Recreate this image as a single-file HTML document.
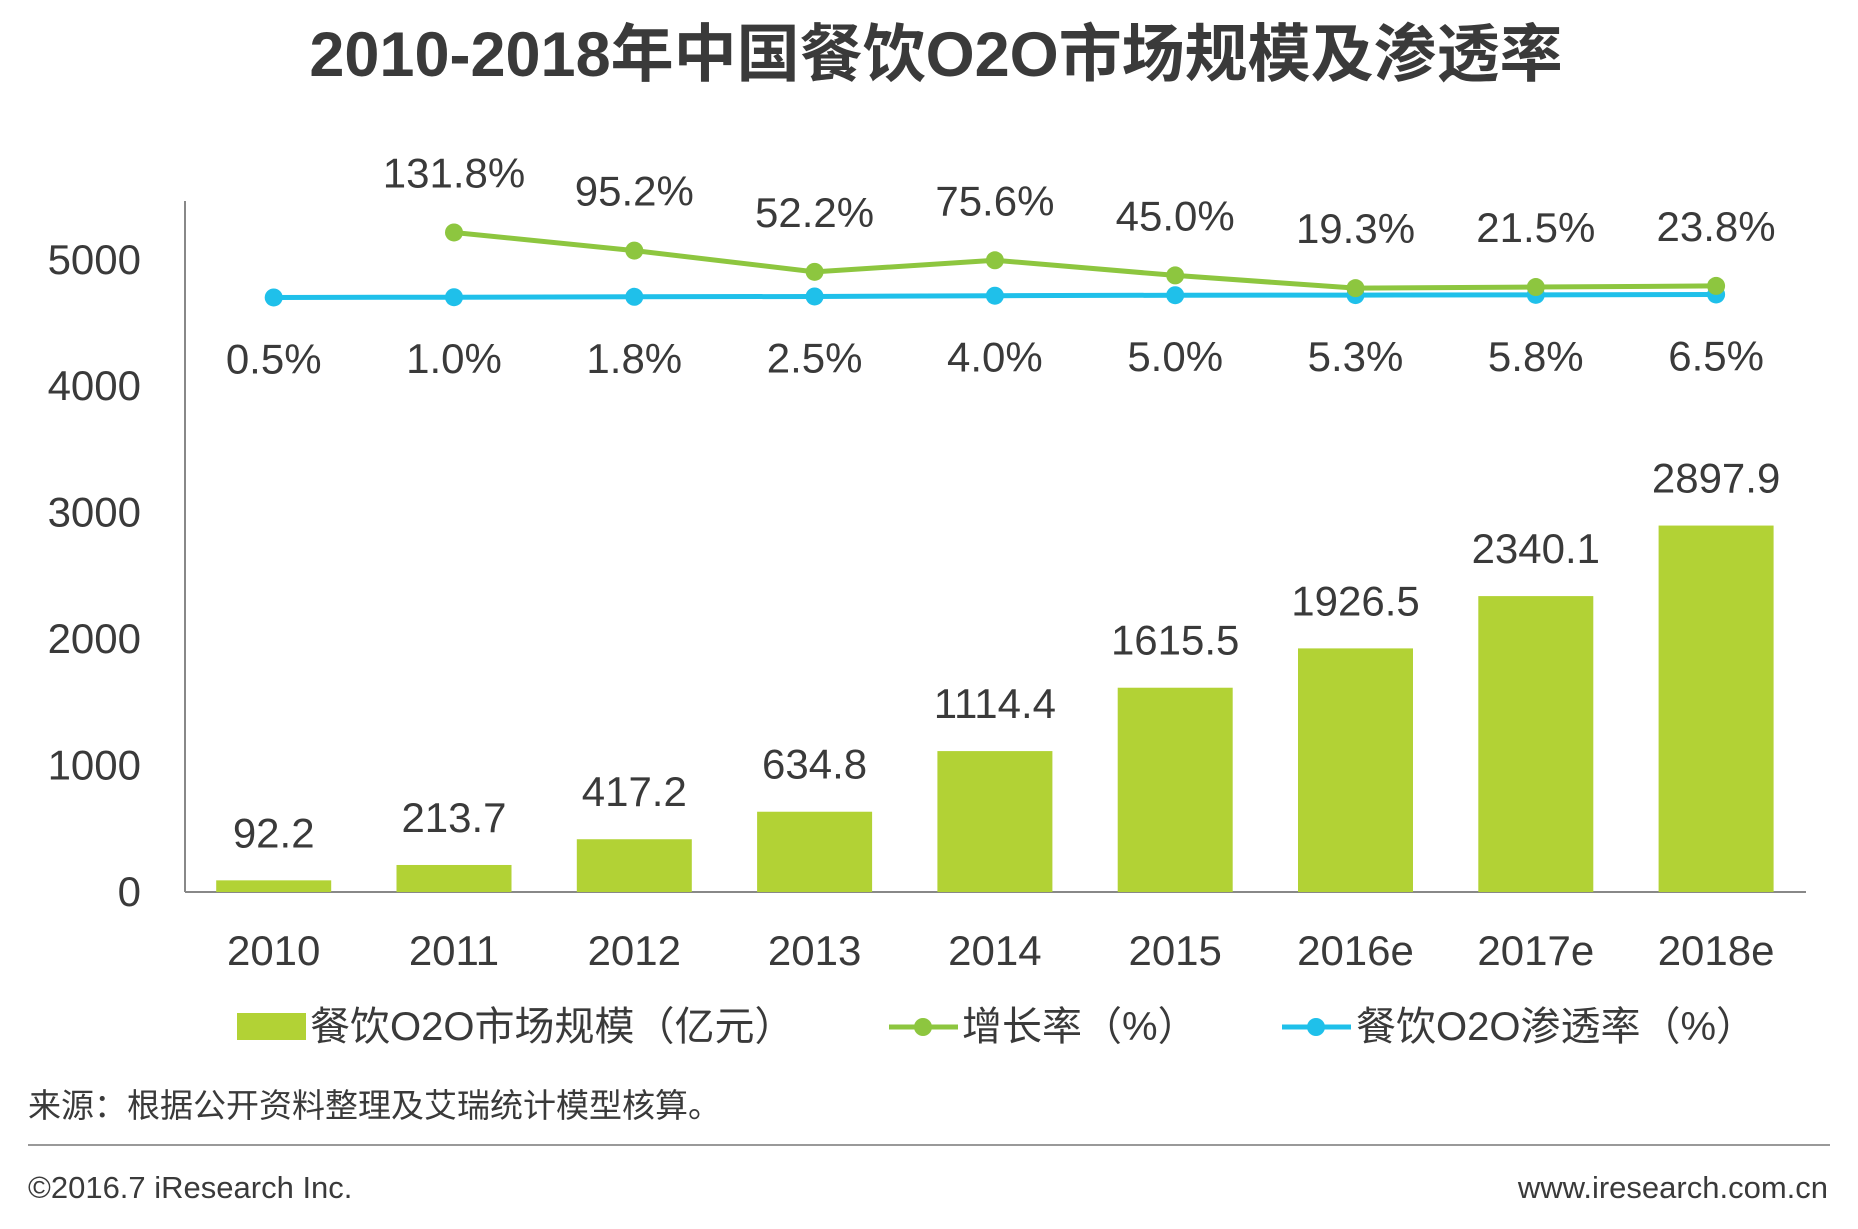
<!DOCTYPE html>
<html><head><meta charset="utf-8"><style>
body{margin:0;background:#fff;}
svg text{font-family:"Liberation Sans","Noto Sans CJK SC",sans-serif;fill:#3a3a3a;}
</style></head><body>
<svg width="1858" height="1224" xmlns="http://www.w3.org/2000/svg">
<text x="936" y="76" text-anchor="middle" font-size="63" font-weight="bold" fill="#333">2010-2018年中国餐饮O2O市场规模及渗透率</text>
<g id="axes"></g><g id="bars"></g><g id="lines"></g>
<g>
<rect x="237" y="1013" width="69" height="27" fill="#b2d235"/>
<text x="310" y="1040" font-size="40">餐饮O2O市场规模（亿元）</text>
<line x1="889" y1="1027" x2="958" y2="1027" stroke="#8dc63f" stroke-width="5"/><circle cx="923" cy="1027" r="9" fill="#8dc63f"/>
<text x="962" y="1040" font-size="40">增长率（%）</text>
<line x1="1282" y1="1027" x2="1351" y2="1027" stroke="#1fc0ea" stroke-width="5"/><circle cx="1316" cy="1027" r="9" fill="#1fc0ea"/>
<text x="1356" y="1040" font-size="40">餐饮O2O渗透率（%）</text>
</g>
<text x="28" y="1117" font-size="33" fill="#666">来源：根据公开资料整理及艾瑞统计模型核算。</text>
<line x1="28" y1="1145" x2="1830" y2="1145" stroke="#999" stroke-width="2"/>
<text x="28" y="1198" font-size="31" fill="#777">©2016.7 iResearch Inc.</text>
<text x="1828" y="1198" font-size="31" fill="#777" text-anchor="end">www.iresearch.com.cn</text>
</svg>
<script>
const categories=["2010","2011","2012","2013","2014","2015","2016e","2017e","2018e"];
const marketSize=[92.2,213.7,417.2,634.8,1114.4,1615.5,1926.5,2340.1,2897.9];
const growthRate=[null,131.8,95.2,52.2,75.6,45.0,19.3,21.5,23.8];
const penetration=[0.5,1.0,1.8,2.5,4.0,5.0,5.3,5.8,6.5];
const yTicks=[0,1000,2000,3000,4000,5000];
const NS="http://www.w3.org/2000/svg";
const x0=273.7,step=180.3,barW=115;
const xPos=i=>x0+i*step;
const yL=v=>892-v*0.12645;
const yR=v=>297.7-v*0.495;
function mk(tag,attrs,parent,txt){const e=document.createElementNS(NS,tag);for(const k in attrs)e.setAttribute(k,attrs[k]);if(txt!==undefined)e.textContent=txt;document.getElementById(parent).appendChild(e);return e;}
let e;
e=mk("line",{x1:185,y1:201,x2:185,y2:892,stroke:"#888","stroke-width":2},"axes");


e=mk("line",{x1:185,y1:892,x2:1806,y2:892,stroke:"#888","stroke-width":2},"axes");


yTicks.forEach(t=>{
 e=mk("text",{x:141,y:yL(t)+14,"text-anchor":"end","font-size":42},"axes",String(t));
 
 
});
categories.forEach((c,i)=>{
 e=mk("text",{x:xPos(i),y:965,"text-anchor":"middle","font-size":42},"axes",c);
 
 
 const v=marketSize[i];
 e=mk("rect",{x:xPos(i)-barW/2,y:yL(v),width:barW,height:892-yL(v),fill:"#b2d235"},"bars");
 
 
 e=mk("text",{x:xPos(i),y:yL(v)-33,"text-anchor":"middle","font-size":42},"bars",v.toFixed(1));
 
 
});
function series(vals,color,name,above){
 const pts=[];vals.forEach((v,i)=>{if(v!==null)pts.push([xPos(i),yR(v),v]);});
 e=mk("polyline",{points:pts.map(p=>p[0]+","+p[1]).join(" "),fill:"none",stroke:color,"stroke-width":5},"lines");
 
 
 pts.forEach(p=>{
  e=mk("circle",{cx:p[0],cy:p[1],r:9,fill:color},"lines");
  
  
  e=mk("text",{x:p[0],y:above?p[1]-45:p[1]+76,"text-anchor":"middle","font-size":42},"lines",p[2].toFixed(1)+"%");
  
  
 });
}
series(penetration,"#1fc0ea","penetration",false);
series(growthRate,"#8dc63f","growth",true);
</script>
</body></html>
